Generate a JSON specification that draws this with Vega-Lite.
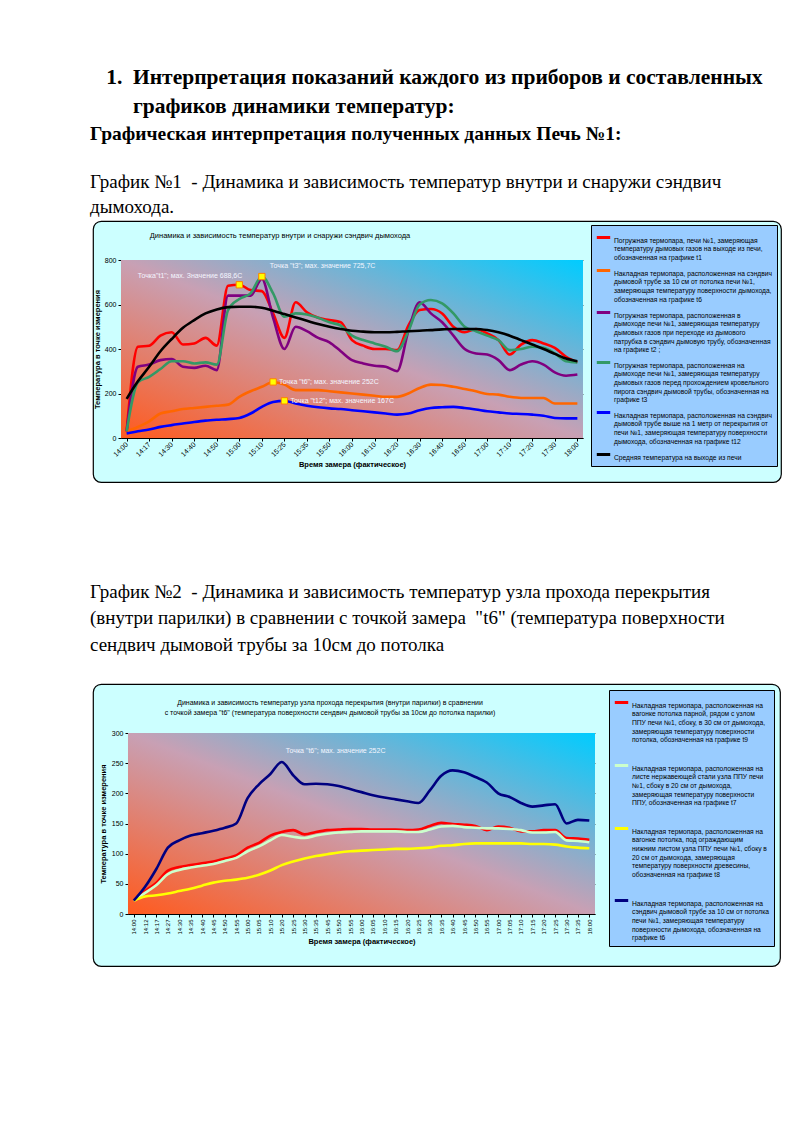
{
  "$schema": "https://vega.github.io/schema/vega-lite/v6.json",
  "background": "white",
  "padding": {"left": 90, "top": 66, "right": 22, "bottom": 160},
  "config": {
    "view": {"stroke": null},
    "axis": {"labelFont": "Liberation Sans", "titleFont": "Liberation Sans", "labelColor": "#000", "titleColor": "#000", "domainColor": "#000", "tickColor": "#000", "labelFontSize": 7, "titleFontSize": 7.5, "titleFontWeight": "bold", "tickSize": 3, "labelPadding": 2},
    "legend": {"labelFont": "Liberation Sans", "labelFontSize": 6.7, "labelColor": "#000", "labelLimit": 260, "symbolType": "stroke", "symbolStrokeWidth": 3, "symbolSize": 180, "fillColor": "#99ccff", "strokeColor": "#000", "padding": 4, "labelOffset": 2}
  },
  "datasets": {
    "c1": [
      {"i":0,"time":"14:00","t1":30,"t6":30,"t2":30,"t3":30,"t12":20,"avg":176},
      {"i":1,"time":"14:12","t1":410,"t6":50,"t2":320,"t3":250,"t12":30,"avg":255},
      {"i":2,"time":"14:17","t1":415,"t6":75,"t2":330,"t3":275,"t12":38,"avg":320},
      {"i":3,"time":"14:27","t1":460,"t6":110,"t2":350,"t3":310,"t12":50,"avg":390},
      {"i":4,"time":"14:30","t1":475,"t6":120,"t2":355,"t3":345,"t12":58,"avg":445},
      {"i":5,"time":"14:35","t1":420,"t6":130,"t2":320,"t3":345,"t12":65,"avg":495},
      {"i":6,"time":"14:40","t1":425,"t6":135,"t2":315,"t3":335,"t12":72,"avg":530},
      {"i":7,"time":"14:45","t1":450,"t6":140,"t2":325,"t3":340,"t12":78,"avg":560},
      {"i":8,"time":"14:50","t1":415,"t6":145,"t2":305,"t3":330,"t12":82,"avg":578},
      {"i":9,"time":"14:55","t1":684,"t6":150,"t2":640,"t3":575,"t12":85,"avg":588},
      {"i":10,"time":"15:00","t1":688.6,"t6":185,"t2":640,"t3":625,"t12":90,"avg":590},
      {"i":11,"time":"15:05","t1":665,"t6":210,"t2":640,"t3":650,"t12":110,"avg":590},
      {"i":12,"time":"15:10","t1":660,"t6":230,"t2":715,"t3":725.7,"t12":140,"avg":585},
      {"i":13,"time":"15:20","t1":560,"t6":252,"t2":540,"t3":650,"t12":162,"avg":572},
      {"i":14,"time":"15:25","t1":450,"t6":240,"t2":400,"t3":545,"t12":167,"avg":557},
      {"i":15,"time":"15:30","t1":610,"t6":215,"t2":500,"t3":560,"t12":155,"avg":542},
      {"i":16,"time":"15:35","t1":565,"t6":215,"t2":480,"t3":555,"t12":145,"avg":527},
      {"i":17,"time":"15:45","t1":540,"t6":215,"t2":450,"t3":540,"t12":138,"avg":512},
      {"i":18,"time":"15:50","t1":530,"t6":210,"t2":430,"t3":520,"t12":133,"avg":500},
      {"i":19,"time":"15:55","t1":520,"t6":205,"t2":390,"t3":505,"t12":130,"avg":490},
      {"i":20,"time":"16:00","t1":440,"t6":200,"t2":350,"t3":460,"t12":125,"avg":482},
      {"i":21,"time":"16:05","t1":415,"t6":195,"t2":335,"t3":440,"t12":120,"avg":478},
      {"i":22,"time":"16:10","t1":400,"t6":190,"t2":325,"t3":425,"t12":115,"avg":475},
      {"i":23,"time":"16:15","t1":400,"t6":185,"t2":320,"t3":410,"t12":110,"avg":475},
      {"i":24,"time":"16:20","t1":395,"t6":185,"t2":300,"t3":390,"t12":105,"avg":477},
      {"i":25,"time":"16:25","t1":505,"t6":200,"t2":480,"t3":480,"t12":110,"avg":480},
      {"i":26,"time":"16:30","t1":575,"t6":225,"t2":610,"t3":600,"t12":125,"avg":482},
      {"i":27,"time":"16:35","t1":580,"t6":240,"t2":560,"t3":620,"t12":135,"avg":485},
      {"i":28,"time":"16:40","t1":560,"t6":238,"t2":520,"t3":605,"t12":138,"avg":488},
      {"i":29,"time":"16:45","t1":500,"t6":230,"t2":460,"t3":560,"t12":140,"avg":490},
      {"i":30,"time":"16:50","t1":475,"t6":220,"t2":400,"t3":500,"t12":135,"avg":490},
      {"i":31,"time":"16:55","t1":490,"t6":210,"t2":380,"t3":480,"t12":128,"avg":490},
      {"i":32,"time":"17:00","t1":470,"t6":198,"t2":375,"t3":460,"t12":120,"avg":485},
      {"i":33,"time":"17:05","t1":440,"t6":195,"t2":350,"t3":440,"t12":115,"avg":475},
      {"i":34,"time":"17:10","t1":375,"t6":185,"t2":305,"t3":395,"t12":110,"avg":460},
      {"i":35,"time":"17:15","t1":420,"t6":180,"t2":330,"t3":400,"t12":108,"avg":440},
      {"i":36,"time":"17:20","t1":440,"t6":180,"t2":345,"t3":410,"t12":105,"avg":420},
      {"i":37,"time":"17:25","t1":425,"t6":180,"t2":330,"t3":405,"t12":100,"avg":400},
      {"i":38,"time":"17:30","t1":405,"t6":155,"t2":295,"t3":380,"t12":90,"avg":378},
      {"i":39,"time":"17:35","t1":365,"t6":155,"t2":280,"t3":345,"t12":88,"avg":357},
      {"i":40,"time":"18:00","t1":340,"t6":155,"t2":285,"t3":340,"t12":88,"avg":345}
    ],
    "c2": [
      {"i":0,"time":"14:00","t9":22,"t7":22,"t8":22,"t6":22},
      {"i":1,"time":"14:12","t9":38,"t7":35,"t8":29,"t6":45},
      {"i":2,"time":"14:17","t9":52,"t7":48,"t8":31,"t6":75},
      {"i":3,"time":"14:27","t9":72,"t7":66,"t8":34,"t6":110},
      {"i":4,"time":"14:30","t9":78,"t7":73,"t8":38,"t6":122},
      {"i":5,"time":"14:35","t9":81,"t7":77,"t8":42,"t6":130},
      {"i":6,"time":"14:40","t9":84,"t7":80,"t8":47,"t6":134},
      {"i":7,"time":"14:45","t9":87,"t7":83,"t8":52,"t6":138},
      {"i":8,"time":"14:50","t9":92,"t7":88,"t8":55,"t6":143},
      {"i":9,"time":"14:55","t9":97,"t7":93,"t8":57,"t6":150},
      {"i":10,"time":"15:00","t9":110,"t7":104,"t8":60,"t6":192},
      {"i":11,"time":"15:05","t9":118,"t7":112,"t8":65,"t6":215},
      {"i":12,"time":"15:10","t9":130,"t7":122,"t8":72,"t6":232},
      {"i":13,"time":"15:20","t9":136,"t7":131,"t8":81,"t6":252},
      {"i":14,"time":"15:25","t9":139,"t7":128,"t8":87,"t6":230},
      {"i":15,"time":"15:30","t9":132,"t7":126,"t8":92,"t6":215},
      {"i":16,"time":"15:35","t9":136,"t7":130,"t8":96,"t6":216},
      {"i":17,"time":"15:45","t9":139,"t7":133,"t8":99,"t6":215},
      {"i":18,"time":"15:50","t9":140,"t7":135,"t8":102,"t6":212},
      {"i":19,"time":"15:55","t9":141,"t7":136,"t8":104,"t6":207},
      {"i":20,"time":"16:00","t9":141,"t7":137,"t8":105,"t6":202},
      {"i":21,"time":"16:05","t9":140,"t7":137,"t8":106,"t6":197},
      {"i":22,"time":"16:10","t9":140,"t7":137,"t8":107,"t6":193},
      {"i":23,"time":"16:15","t9":140,"t7":137,"t8":108,"t6":190},
      {"i":24,"time":"16:20","t9":139,"t7":136,"t8":108,"t6":187},
      {"i":25,"time":"16:25","t9":140,"t7":136,"t8":109,"t6":184},
      {"i":26,"time":"16:30","t9":146,"t7":140,"t8":110,"t6":205},
      {"i":27,"time":"16:35","t9":151,"t7":145,"t8":113,"t6":229},
      {"i":28,"time":"16:40","t9":149,"t7":146,"t8":114,"t6":238},
      {"i":29,"time":"16:45","t9":148,"t7":144,"t8":116,"t6":235},
      {"i":30,"time":"16:50","t9":146,"t7":143,"t8":117,"t6":227},
      {"i":31,"time":"16:55","t9":139,"t7":142,"t8":117,"t6":218},
      {"i":32,"time":"17:00","t9":145,"t7":142,"t8":117,"t6":200},
      {"i":33,"time":"17:05","t9":143,"t7":141,"t8":117,"t6":194},
      {"i":34,"time":"17:10","t9":137,"t7":139,"t8":117,"t6":184},
      {"i":35,"time":"17:15","t9":137,"t7":135,"t8":116,"t6":178},
      {"i":36,"time":"17:20","t9":139,"t7":135,"t8":116,"t6":180},
      {"i":37,"time":"17:25","t9":139,"t7":136,"t8":115,"t6":182},
      {"i":38,"time":"17:30","t9":126,"t7":122,"t8":112,"t6":150},
      {"i":39,"time":"17:35","t9":125,"t7":121,"t8":110,"t6":156},
      {"i":40,"time":"18:00","t9":123,"t7":119,"t8":109,"t6":155}
    ],
    "leg1": [
      {"key":"t1","ord":1,"label":"Погружная термопара,  печи №1, замеряющая\nтемпературу дымовых газов на выходе из печи,\nобозначенная на графике t1"},
      {"key":"t6","ord":2,"label":"Накладная термопара, расположенная на сэндвич\nдымовой трубе за 10 см от потолка печи №1,\nзамеряющая температуру поверхности дымохода,\nобозначенная на графике t6"},
      {"key":"t2","ord":3,"label":"Погружная термопара, расположенная в\nдымоходе печи №1, замеряющая температуру\nдымовых газов при переходе из дымового\nпатрубка в сэндвич дымовую трубу, обозначенная\nна графике t2 ;"},
      {"key":"t3","ord":4,"label":"Погружная термопара, расположенная на\nдымоходе печи №1, замеряющая температуру\nдымовых газов перед прохождением кровельного\nпирога сэндвич дымовой трубы, обозначенная на\nграфике t3"},
      {"key":"t12","ord":5,"label":"Накладная термопара, расположенная на сэндвич\nдымовой трубе выше на 1 метр от перекрытия от\nпечи №1, замеряющая температуру поверхности\nдымохода, обозначенная на графике t12"},
      {"key":"avg","ord":6,"label":"Средняя температура на выходе из печи"}
    ],
    "leg2": [
      {"key":"t9","ord":1,"label":"Накладная термопара, расположенная на\nвагонке потолка парной, рядом с узлом\nППУ печи №1, сбоку, в 30 см от дымохода,\nзамеряющая температуру поверхности\nпотолка, обозначенная на графике t9"},
      {"key":"t7","ord":2,"label":"Накладная термопара, расположенная на\nлисте нержавеющей стали узла ППУ печи\n№1, сбоку в 20 см от дымохода,\nзамеряющая температуру поверхности\nППУ, обозначенная на графике t7"},
      {"key":"t8","ord":3,"label":"Накладная термопара, расположенная на\nвагонке потолка, под ограждающим\nнижним листом узла ППУ печи №1, сбоку в\n20 см от дымохода, замеряющая\nтемпературу поверхности древесины,\nобозначенная на графике t8"},
      {"key":"t6","ord":4,"label":"Накладная термопара, расположенная на\nсэндвич дымовой трубе за 10 см от потолка\nпечи №1, замеряющая температуру\nповерхности дымохода, обозначенная на\nграфике t6"}
    ],
    "ann1": [
      {"key":"t1","time":"15:00","v":688.6,"text":"Точка\"t1\"; мах. Значение 688,6С"},
      {"key":"t3","time":"15:10","v":725.7,"text":"Точка \"t3\"; мах. значение 725,7С"},
      {"key":"t6","time":"15:20","v":252,"text":"Точка \"t6\"; мах. значение 252С"},
      {"key":"t12","time":"15:25","v":167,"text":"Точка \"t12\"; мах. значение 167С"}
    ],
    "ann2": [
      {"key":"t6","time":"15:20","v":252,"text":"Точка \"t6\"; мах. значение 252С"}
    ]
  },
  "title": {
    "text": ["\u200b\u00a0\u00a0\u00a01.\u00a0\u00a0Интерпретация показаний каждого из приборов и составленных", "\u200b\u00a0\u00a0\u00a0\u00a0\u00a0\u00a0\u00a0\u00a0графиков динамики температур:"],
    "subtitle": "Графическая интерпретация полученных данных Печь №1:",
    "anchor": "start", "frame": "group", "dx": -3, "offset": 29,
    "font": "Liberation Serif", "fontSize": 21.5, "fontWeight": "bold", "lineHeight": 29, "color": "#000",
    "subtitleFont": "Liberation Serif", "subtitleFontSize": 19.5, "subtitleFontWeight": "bold", "subtitleColor": "#000", "subtitlePadding": 8
  },
  "spacing": 99,
  "resolve": {"scale": {"color": "independent"}, "legend": {"color": "independent"}},
  "vconcat": [
    {
      "title": {"text": ["График №1\u00a0\u00a0- Динамика и зависимость температур внутри и снаружи сэндвич", "дымохода."], "anchor": "start", "frame": "group", "dx": -3, "offset": 3.5, "font": "Liberation Serif", "fontSize": 19, "fontWeight": "normal", "lineHeight": 25, "color": "#000"},
      "resolve": {"scale": {"color": "independent"}, "legend": {"color": "independent"}},
      "vconcat": [
        {
          "width": 688, "height": 261,
          "view": {"fill": "#ccffff", "stroke": "#000", "strokeWidth": 1.2, "cornerRadius": 8},
          "title": {"text": "Динамика и зависимость температур внутри и снаружи сэндвич дымохода", "anchor": "start", "frame": "group", "align": "center", "dx": 187, "offset": -18, "baseline": "top", "font": "Liberation Sans", "fontSize": 7.5, "fontWeight": "normal", "color": "#000"},
          "layer": [
            {
              "data": {"values": [{}]},
              "mark": {"type": "rect", "xOffset": -5.63, "x2Offset": 5.63, "color": {"gradient": "linear", "x1": 0, "y1": 1, "x2": 1, "y2": 0, "stops": [{"offset": 0, "color": "#ff5a1e"}, {"offset": 0.5, "color": "#c8a0b4"}, {"offset": 1, "color": "#00ccff"}]}},
              "encoding": {
                "x": {"datum": "14:00", "type": "nominal", "title": "Время замера (фактическое)", "scale": {"type": "point", "range": [28, 490], "padding": 0.5},
                  "axis": {"values": ["14:00","14:17","14:30","14:40","14:50","15:00","15:10","15:25","15:35","15:50","16:00","16:10","16:20","16:30","16:40","16:50","17:00","17:10","17:20","17:30","18:00"], "labelAngle": -45, "labelAlign": "right", "labelBaseline": "middle", "labelOverlap": false, "offset": -44, "grid": false, "titlePadding": 3}},
                "x2": {"datum": "18:00"},
                "y": {"datum": 0, "type": "quantitative", "title": "Температура в точке измерения", "scale": {"domain": [0, 800], "range": [217, 39], "nice": false, "zero": true},
                  "axis": {"values": [0,100,200,300,400,500,600,700,800], "offset": -28, "grid": true, "gridColor": "#333", "gridWidth": 0.8, "titlePadding": 3}},
                "y2": {"datum": 800}
              }
            },
            {
              "data": {"name": "c1"},
              "transform": [
                {"fold": ["t1", "t6", "t2", "t3", "t12", "avg"]},
                {"lookup": "key", "from": {"data": {"name": "leg1"}, "key": "key", "fields": ["label", "ord"]}}
              ],
              "mark": {"type": "line", "interpolate": "monotone", "strokeWidth": 2.6},
              "encoding": {
                "x": {"field": "time", "type": "nominal", "title": "Время замера (фактическое)"},
                "y": {"field": "value", "type": "quantitative", "title": "Температура в точке измерения"},
                "color": {"field": "label", "type": "nominal", "sort": {"field": "ord", "op": "min"},
                  "scale": {"range": ["#ff0000", "#ff6600", "#800080", "#339966", "#0000ff", "#000000"]},
                  "legend": {"title": null, "orient": "top-right", "offset": 4, "labelExpr": "split(datum.label, '\\n')", "labelBaseline": "top", "rowPadding": 0}}
              }
            },
            {
              "data": {"name": "ann1"},
              "mark": {"type": "square", "size": 40, "filled": true, "fill": "#ffff00", "stroke": "#ff8000", "strokeWidth": 1, "opacity": 1},
              "encoding": {
                "x": {"field": "time", "type": "nominal", "title": "Время замера (фактическое)"},
                "y": {"field": "v", "type": "quantitative", "title": "Температура в точке измерения"}
              }
            },
            {
              "data": {"name": "ann1"},
              "transform": [{"filter": "datum.key === 't1'"}],
              "mark": {"type": "text", "align": "right", "dx": 3, "dy": -9, "font": "Liberation Sans", "fontSize": 7, "color": "#f4f6ff"},
              "encoding": {
                "x": {"field": "time", "type": "nominal", "title": "Время замера (фактическое)"},
                "y": {"field": "v", "type": "quantitative", "title": "Температура в точке измерения"},
                "text": {"field": "text"}
              }
            },
            {
              "data": {"name": "ann1"},
              "transform": [{"filter": "datum.key === 't3'"}],
              "mark": {"type": "text", "align": "left", "dx": 8, "dy": -11, "font": "Liberation Sans", "fontSize": 7, "color": "#f4f6ff"},
              "encoding": {
                "x": {"field": "time", "type": "nominal", "title": "Время замера (фактическое)"},
                "y": {"field": "v", "type": "quantitative", "title": "Температура в точке измерения"},
                "text": {"field": "text"}
              }
            },
            {
              "data": {"name": "ann1"},
              "transform": [{"filter": "datum.key === 't6' || datum.key === 't12'"}],
              "mark": {"type": "text", "align": "left", "dx": 6, "dy": 0, "font": "Liberation Sans", "fontSize": 7, "color": "#f4f6ff"},
              "encoding": {
                "x": {"field": "time", "type": "nominal", "title": "Время замера (фактическое)"},
                "y": {"field": "v", "type": "quantitative", "title": "Температура в точке измерения"},
                "text": {"field": "text"}
              }
            }
          ]
        }
      ]
    },
    {
      "title": {"text": ["График №2\u00a0\u00a0- Динамика и зависимость температур узла прохода перекрытия", "(внутри парилки) в сравнении с точкой замера\u00a0\u00a0\"t6\" (температура поверхности", "сендвич дымовой трубы за 10см до потолка"], "anchor": "start", "frame": "group", "dx": -3, "offset": 28.5, "font": "Liberation Serif", "fontSize": 19, "fontWeight": "normal", "lineHeight": 26.5, "color": "#000"},
      "resolve": {"scale": {"color": "independent"}, "legend": {"color": "independent"}},
      "vconcat": [
        {
          "width": 687, "height": 282,
          "view": {"fill": "#ccffff", "stroke": "#000", "strokeWidth": 1.2, "cornerRadius": 8},
          "title": {"text": ["Динамика и зависимость температур узла прохода перекрытия (внутри парилки) в сравнении", "с точкой замера  \"t6\" (температура поверхности сендвич дымовой трубы за 10см до потолка парилки)"], "anchor": "start", "frame": "group", "align": "center", "dx": 237, "offset": -32, "baseline": "top", "lineHeight": 10.5, "font": "Liberation Sans", "fontSize": 7, "fontWeight": "normal", "color": "#000"},
          "layer": [
            {
              "data": {"values": [{}]},
              "mark": {"type": "rect", "xOffset": -5.7, "x2Offset": 5.7, "color": {"gradient": "linear", "x1": 0, "y1": 1, "x2": 1, "y2": 0, "stops": [{"offset": 0, "color": "#ff5a1e"}, {"offset": 0.5, "color": "#c8a0b4"}, {"offset": 1, "color": "#00ccff"}]}},
              "encoding": {
                "x": {"datum": "14:00", "type": "nominal", "title": "Время замера (фактическое)", "scale": {"type": "point", "range": [35, 502], "padding": 0.5},
                  "axis": {"labelAngle": -90, "labelAlign": "right", "labelBaseline": "middle", "labelFontSize": 6, "labelOverlap": false, "offset": -52, "grid": false, "titlePadding": 3}},
                "x2": {"datum": "18:00"},
                "y": {"datum": 0, "type": "quantitative", "title": "Температура в точке измерения", "scale": {"domain": [0, 300], "range": [230, 49], "nice": false, "zero": true},
                  "axis": {"values": [0,50,100,150,200,250,300], "offset": -35, "grid": true, "gridColor": "#333", "gridWidth": 0.8, "titlePadding": 4}},
                "y2": {"datum": 300}
              }
            },
            {
              "data": {"name": "c2"},
              "transform": [
                {"fold": ["t9", "t7", "t8", "t6"]},
                {"lookup": "key", "from": {"data": {"name": "leg2"}, "key": "key", "fields": ["label", "ord"]}}
              ],
              "mark": {"type": "line", "interpolate": "monotone", "strokeWidth": 2.6},
              "encoding": {
                "x": {"field": "time", "type": "nominal", "title": "Время замера (фактическое)"},
                "y": {"field": "value", "type": "quantitative", "title": "Температура в точке измерения"},
                "color": {"field": "label", "type": "nominal", "sort": {"field": "ord", "op": "min"},
                  "scale": {"range": ["#ff0000", "#ccffcc", "#ffff00", "#000080"]},
                  "legend": {"title": null, "orient": "top-right", "offset": 6, "labelExpr": "split(datum.label, '\\n')", "labelBaseline": "top", "rowPadding": 13}}
              }
            },
            {
              "data": {"name": "ann2"},
              "mark": {"type": "text", "align": "left", "dx": 4, "dy": -11, "font": "Liberation Sans", "fontSize": 7, "color": "#f4f6ff"},
              "encoding": {
                "x": {"field": "time", "type": "nominal", "title": "Время замера (фактическое)"},
                "y": {"field": "v", "type": "quantitative", "title": "Температура в точке измерения"},
                "text": {"field": "text"}
              }
            }
          ]
        }
      ]
    }
  ]
}
